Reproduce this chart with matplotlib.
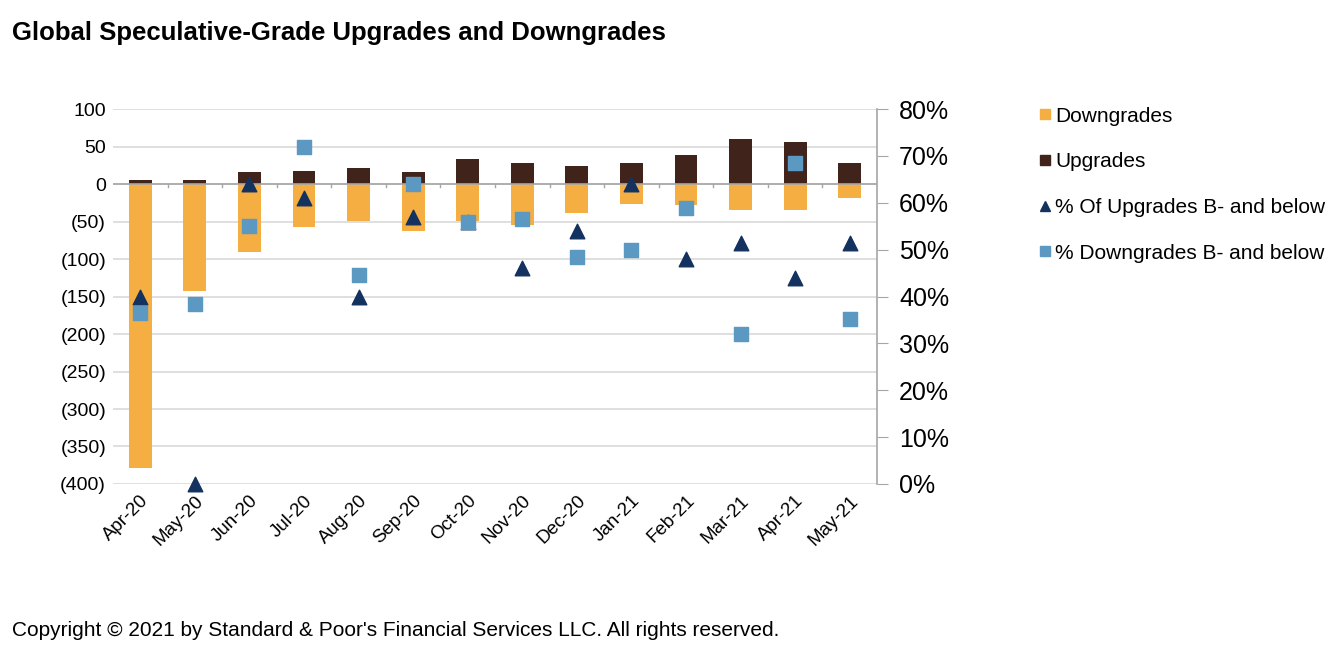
import matplotlib
matplotlib.use('Agg')
import matplotlib.pyplot as plt
from matplotlib.lines import Line2D
from matplotlib.ticker import FuncFormatter, MultipleLocator

plt.rcParams['font.family'] = ['Liberation Sans', 'DejaVu Sans']

months = ['Apr-20', 'May-20', 'Jun-20', 'Jul-20', 'Aug-20', 'Sep-20', 'Oct-20',
          'Nov-20', 'Dec-20', 'Jan-21', 'Feb-21', 'Mar-21', 'Apr-21', 'May-21']
downgrades = [-379, -143, -90, -57, -49, -62, -49, -55, -39, -26, -28, -34, -34, -18]
upgrades = [5, 5, 16, 18, 21, 16, 34, 28, 24, 28, 39, 60, 56, 28]
pct_up_bminus = [40, 0, 64, 61, 40, 57, 56, 46, 54, 64, 48, 51.5, 44, 51.5]
pct_down_bminus = [36.5, 38.5, 55, 72, 44.5, 64, 56, 56.5, 48.5, 50, 59, 32, 68.5, 35.2]

c_down = '#F4AE42'
c_up = '#40231A'
c_tri = '#14325F'
c_sq = '#5B98C2'

fig = plt.figure(figsize=(13.34, 6.6), dpi=100)
ax = fig.add_axes([0.0847, 0.2667, 0.5727, 0.568])
x = list(range(len(months)))

ax.bar(x, downgrades, width=0.42, color=c_down, zorder=2)
ax.bar(x, upgrades, width=0.42, color=c_up, zorder=2)

ax.set_xlim(-0.5, len(months) - 0.5)
ax.set_ylim(-400, 100)
ax.yaxis.set_major_locator(MultipleLocator(50))
ax.yaxis.set_major_formatter(FuncFormatter(
    lambda v, p: f'({abs(int(v))})' if v < 0 else f'{int(v)}'))
ax.grid(axis='y', color='#D9D9D9', linewidth=1.2, zorder=0)
ax.tick_params(axis='y', length=0, labelsize=14, pad=5)
ax.set_xticks(x)
ax.set_xticklabels(months, rotation=45, ha='right', rotation_mode='anchor', fontsize=13.5)
ax.tick_params(axis='x', length=0, pad=6)
for s in ['top', 'left', 'right', 'bottom']:
    ax.spines[s].set_visible(False)

# category axis at zero with small ticks between categories
ax.axhline(0, color='#A6A6A6', linewidth=1.2, zorder=3)
for i in range(len(months) - 1):
    ax.plot([i + 0.5, i + 0.5], [0, -4], color='#A6A6A6', linewidth=1, zorder=3)

ax2 = ax.twinx()
ax2.set_ylim(0, 80)
ax2.yaxis.set_major_locator(MultipleLocator(10))
ax2.yaxis.set_major_formatter(FuncFormatter(lambda v, p: f'{int(v)}%'))
ax2.tick_params(axis='y', direction='out', length=8, color='#A6A6A6', labelsize=18, pad=8)
for s in ['top', 'left', 'bottom']:
    ax2.spines[s].set_visible(False)
ax2.spines['right'].set_color('#A6A6A6')
ax2.spines['right'].set_linewidth(1.2)

ax2.scatter(x, pct_up_bminus, marker='^', s=110, color=c_tri, zorder=4, clip_on=False)
ax2.scatter(x, pct_down_bminus, marker='s', s=115, color=c_sq, zorder=5, clip_on=False)

handles = [
    Line2D([], [], marker='s', linestyle='', color=c_down, markersize=7),
    Line2D([], [], marker='s', linestyle='', color=c_up, markersize=7),
    Line2D([], [], marker='^', linestyle='', color=c_tri, markersize=7),
    Line2D([], [], marker='s', linestyle='', color=c_sq, markersize=7),
]
labels = ['Downgrades', 'Upgrades', '% Of Upgrades B- and below', '% Downgrades B- and below']
fig.legend(handles, labels, loc='upper left', bbox_to_anchor=(0.77, 0.851),
           frameon=False, fontsize=15, handletextpad=0.05, handlelength=0.9,
           labelspacing=1.28, borderaxespad=0)

fig.text(0.009, 0.95, 'Global Speculative-Grade Upgrades and Downgrades',
         fontsize=18.5, fontweight='bold', va='center', ha='left')
fig.text(0.009, 0.045, "Copyright \u00a9 2021 by Standard & Poor's Financial Services LLC. All rights reserved.",
         fontsize=15, va='center', ha='left')

fig.savefig('out.png', dpi=100)
